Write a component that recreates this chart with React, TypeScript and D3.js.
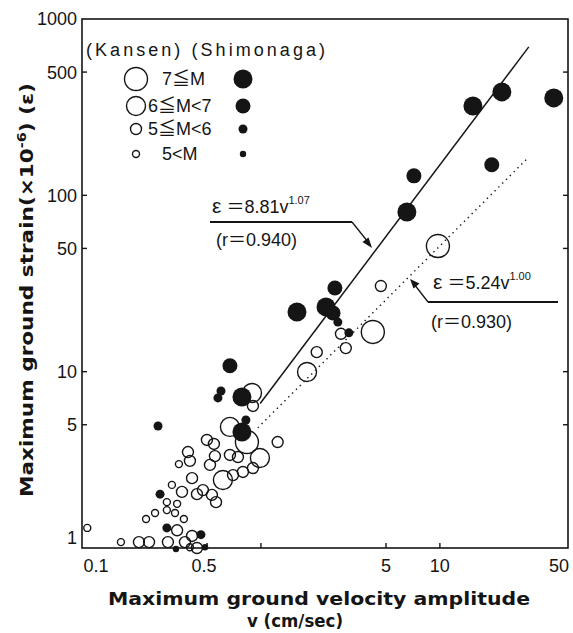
import React from "react";
import * as d3 from "d3";

// magnitude class: 0 = 7≦M, 1 = 6≦M<7, 2 = 5≦M<6, 3 = M<5
const magLabels = ["7≦M", "6≦M<7", "5≦M<6", "5<M"];
const openRadius = [11.5, 9.5, 5.5, 3.5];
const filledRadius = [9.5, 7.5, 4.5, 3.2];

// Kansen records (open circles): [v cm/sec, strain x1e-6, magnitude class]
const kansen: [number, number, number][] = [
  [9.75, 51.6, 0], [4.68, 30.6, 2], [2.8, 16.4, 2], [4.22, 16.8, 0],
  [2.05, 12.9, 2], [2.98, 13.6, 2], [1.81, 9.96, 1], [0.891, 7.57, 1],
  [0.902, 6.39, 2], [0.671, 4.86, 1], [0.835, 3.99, 0], [1.24, 3.99, 2],
  [0.499, 4.1, 2], [0.546, 3.89, 2], [0.391, 3.5, 2], [0.553, 3.32, 2],
  [0.401, 3.12, 2], [0.348, 2.99, 3], [0.671, 3.37, 2], [0.744, 3.28, 2],
  [0.519, 2.96, 2], [0.987, 3.24, 1], [0.412, 2.49, 2], [0.613, 2.43, 1],
  [0.698, 2.59, 2], [0.793, 2.7, 2], [0.902, 2.84, 2], [0.318, 2.28, 3],
  [0.362, 2.08, 2], [0.439, 2.02, 2], [0.474, 2.13, 2], [0.532, 2.0, 2],
  [0.561, 1.82, 2], [0.298, 1.82, 3], [0.34, 1.78, 3], [0.298, 1.64, 3],
  [0.256, 1.58, 3], [0.228, 1.46, 3], [0.331, 1.58, 3], [0.371, 1.46, 3],
  [0.34, 1.26, 2], [0.412, 1.17, 2], [0.376, 1.08, 2], [0.107, 1.3, 3],
  [0.165, 1.08, 3], [0.208, 1.08, 2], [0.237, 1.08, 2], [0.302, 1.08, 2],
  [0.439, 1.0, 2], [0.401, 1.01, 3],
];

// Shimonaga records (filled circles)
const shimonaga: [number, number, number][] = [
  [22.2, 386, 0], [15.3, 321, 0], [43.3, 357, 0], [7.16, 129, 1],
  [19.5, 149, 1], [6.54, 80.5, 0], [2.59, 29.8, 1], [1.59, 21.8, 0],
  [2.31, 23.3, 0], [2.53, 21.5, 1], [2.69, 19.1, 2], [3.1, 16.6, 2],
  [0.671, 10.8, 1], [0.598, 7.77, 2], [0.575, 7.1, 2], [0.783, 7.19, 0],
  [0.266, 4.92, 2], [0.783, 4.55, 0], [0.824, 5.32, 2], [0.273, 2.02, 2],
  [0.298, 1.3, 2], [0.462, 1.19, 2], [0.335, 0.987, 3], [0.487, 1.01, 3],
];

// regression line end points as drawn
const fitShimonaga: [number, number][] = [[0.99, 6.6], [31.4, 695]];
const fitKansen: [number, number][] = [[0.96, 4.8], [31.4, 165]];

const xTickValues = [0.1, 0.5, 5, 10, 50];
const xTickLabels = ["0.1", "0.5", "5", "10", "50"];
const xTickMarks = [0.5, 1, 5, 10];
const yTickValues = [1, 5, 10, 50, 100, 500, 1000];
const yTickLabels = ["1", "5", "10", "50", "100", "500", "1000"];
const yTickMarks = [5, 10, 50, 100, 500];

const ink = "#151515";
const numFont = "'Liberation Sans', Arial, 'Noto Sans CJK JP', sans-serif";
const titleFont = "'DejaVu Sans', 'Noto Sans CJK JP', sans-serif";

export default function App() {
  const x = d3.scaleLog().domain([0.1, 52]).range([82, 568]);
  const y = d3.scaleLog().domain([1, 1000]).range([548, 19]);
  const line = d3
    .line<[number, number]>()
    .x((d) => x(d[0]))
    .y((d) => y(d[1]));

  const x0 = x.range()[0];
  const x1 = x.range()[1];
  const y0 = y.range()[0];
  const y1 = y.range()[1];

  // small nudges so the labels sit where the printed figure put them
  const xLabelShift = (t: number) => (t === 0.1 ? 14 : t === 0.5 ? -3 : t === 50 ? -6 : 0);

  return (
    <svg
      width={573}
      height={633}
      style={{ position: "absolute", left: 0, top: 0, background: "#fff" }}
    >
      <rect x={0} y={0} width={573} height={633} fill="#fff" />

      {/* frame */}
      <rect
        x={x0}
        y={y1}
        width={x1 - x0}
        height={y0 - y1}
        fill="none"
        stroke={ink}
        strokeWidth={1.6}
      />

      {/* ticks */}
      {yTickMarks.map((t) => (
        <g key={"yt" + t}>
          <line x1={x0} x2={x0 + 5} y1={y(t)} y2={y(t)} stroke={ink} strokeWidth={1.4} />
          <line x1={x1} x2={x1 - 5} y1={y(t)} y2={y(t)} stroke={ink} strokeWidth={1.4} />
        </g>
      ))}
      {xTickMarks.map((t) => (
        <line key={"xt" + t} x1={x(t)} x2={x(t)} y1={y0} y2={y0 - 5} stroke={ink} strokeWidth={1.4} />
      ))}

      {/* tick labels */}
      {yTickValues.map((t, i) => (
        <text
          key={"yl" + t}
          x={77}
          y={y(t) + (t === 1 ? -10 : 0)}
          dy="0.36em"
          textAnchor="end"
          fontFamily={numFont}
          fontSize={18}
          fill={ink}
        >
          {yTickLabels[i]}
        </text>
      ))}
      {xTickValues.map((t, i) => (
        <text
          key={"xl" + t}
          x={x(t) + xLabelShift(t)}
          y={572}
          textAnchor="middle"
          fontFamily={numFont}
          fontSize={18}
          fill={ink}
        >
          {xTickLabels[i]}
        </text>
      ))}

      {/* axis titles */}
      <text
        x={319}
        y={605}
        textAnchor="middle"
        fontFamily={titleFont}
        fontWeight="bold"
        fontSize={18}
        textLength={422}
        lengthAdjust="spacingAndGlyphs"
        fill={ink}
      >
        Maximum ground velocity amplitude
      </text>
      <text
        x={295}
        y={627}
        textAnchor="middle"
        fontFamily={titleFont}
        fontWeight="bold"
        fontSize={18}
        textLength={96}
        lengthAdjust="spacingAndGlyphs"
        fill={ink}
      >
        v (cm/sec)
      </text>
      <text
        transform="translate(33,290) rotate(-90)"
        textAnchor="middle"
        fontFamily={titleFont}
        fontWeight="bold"
        fontSize={18}
        textLength={414}
        lengthAdjust="spacingAndGlyphs"
        fill={ink}
      >
        Maximum ground strain(×10<tspan dy={-7} fontSize={12}>-6</tspan>
        <tspan dy={7}>) (ε)</tspan>
      </text>

      {/* regression lines */}
      <path d={line(fitShimonaga) || ""} fill="none" stroke={ink} strokeWidth={1.5} />
      <path
        d={line(fitKansen) || ""}
        fill="none"
        stroke={ink}
        strokeWidth={1.4}
        strokeDasharray="1.4 4"
      />

      {/* data */}
      {kansen.map((d, i) => (
        <circle
          key={"k" + i}
          cx={x(d[0])}
          cy={y(d[1])}
          r={openRadius[d[2]]}
          fill="none"
          stroke={ink}
          strokeWidth={1.4}
        />
      ))}
      {shimonaga.map((d, i) => (
        <circle key={"s" + i} cx={x(d[0])} cy={y(d[1])} r={filledRadius[d[2]]} fill={ink} />
      ))}

      {/* legend */}
      <text
        x={86}
        y={56}
        fontFamily={numFont}
        fontSize={18}
        textLength={239}
        lengthAdjust="spacing"
        fill={ink}
      >
        (Kansen) (Shimonaga)
      </text>
      {magLabels.map((lab, i) => {
        const ly = [79, 106, 129, 154][i];
        const tx = i === 1 || i === 2 ? 148 : 162;
        return (
          <g key={"lg" + i}>
            <circle cx={136} cy={ly} r={openRadius[i]} fill="none" stroke={ink} strokeWidth={1.4} />
            <text
              x={tx}
              y={ly}
              dy="0.36em"
              fontFamily={numFont}
              fontSize={18}
              fill={ink}
            >
              {lab}
            </text>
            <circle cx={243} cy={ly} r={filledRadius[i]} fill={ink} />
          </g>
        );
      })}

      {/* annotations */}
      <text x={212} y={213} fontFamily={numFont} fontSize={18} fill={ink}>
        <tspan fontSize={21}>ε</tspan> ＝8.81v<tspan dy={-9} fontSize={11}>1.07</tspan>
      </text>
      <line x1={210} x2={352} y1={222} y2={222} stroke={ink} strokeWidth={2} />
      <line x1={352} y1={222} x2={368} y2={242} stroke={ink} strokeWidth={1.3} />
      <path d="M372,248 L362.5,242 L368.5,237.5 Z" fill={ink} />
      <text x={216} y={246} fontFamily={numFont} fontSize={18} fill={ink}>
        (r＝0.940)
      </text>

      <text x={433} y={289} fontFamily={numFont} fontSize={18} fill={ink}>
        <tspan fontSize={21}>ε</tspan> ＝5.24v<tspan dy={-9} fontSize={11}>1.00</tspan>
      </text>
      <line x1={428} x2={558} y1={302} y2={302} stroke={ink} strokeWidth={2} />
      <line x1={428} y1={302} x2={414} y2={284} stroke={ink} strokeWidth={1.3} />
      <path d="M410,279 L419.5,283.5 L413.5,288.5 Z" fill={ink} />
      <text x={431} y={328} fontFamily={numFont} fontSize={18} fill={ink}>
        (r＝0.930)
      </text>
    </svg>
  );
}
